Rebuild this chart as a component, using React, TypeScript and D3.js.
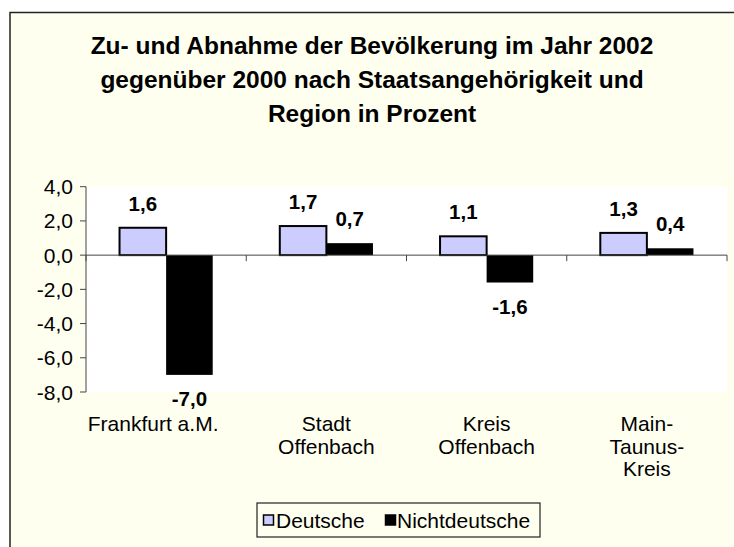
import React from "react";
import * as d3 from "d3";

const titleLines = [
    "Zu- und Abnahme der Bevölkerung im Jahr 2002",
    "gegenüber 2000 nach Staatsangehörigkeit und",
    "Region in Prozent",
];
const regions = ["Frankfurt a.M.", "Stadt Offenbach", "Kreis Offenbach", "Main-Taunus-Kreis"];
const regionLabels = [["Frankfurt a.M."], ["Stadt", "Offenbach"], ["Kreis", "Offenbach"], ["Main-", "Taunus-", "Kreis"]];
const seriesNames = ["Deutsche", "Nichtdeutsche"];
const deutsche = [1.6, 1.7, 1.1, 1.3];
const nichtdeutsche = [-7.0, 0.7, -1.6, 0.4];
const yTicks = [-8, -6, -4, -2, 0, 2, 4];
const colors = ["#CCCCFF", "#000000"];

const width = 734;
const height = 547;
const plot = { left: 86, right: 727, top: 186.7, bottom: 392 };
const font = "'Liberation Sans', Arial, sans-serif";

const locale = d3.formatLocale({ decimal: ",", thousands: ".", grouping: [3], currency: ["", " €"], minus: "-" });
const fmt = locale.format(".1f");

const App = (): JSX.Element => {
    const x0 = d3.scaleBand<string>().domain(regions).range([plot.left, plot.right]).padding(0);
    const x1 = d3
        .scaleBand<string>()
        .domain(seriesNames)
        .range([0, x0.bandwidth()])
        .paddingInner(0)
        .paddingOuter(0.72);
    const y = d3.scaleLinear().domain([-8, 4]).range([plot.bottom, plot.top]);

    const values = [deutsche, nichtdeutsche];
    const boundaries = regions.map((r) => x0(r) as number).concat([plot.right]);

    return (
        <svg
            width={width}
            height={height}
            viewBox={`0 0 ${width} ${height}`}
            style={{ position: "absolute", left: 0, top: 0 }}
            fontFamily={font}
        >
            <rect x={0} y={0} width={width} height={height} fill="#ffffff" />
            {/* chart frame, runs off the right and bottom */}
            <rect x={10} y={12.5} width={740} height={560} fill="#FFFFF0" stroke="#222" strokeWidth={1.5} />

            {/* title */}
            <g fontWeight="bold" fontSize={24.5} textAnchor="middle" fill="#000">
                {titleLines.map((t, i) => (
                    <text key={i} x={372} y={54 + i * 34}>
                        {t}
                    </text>
                ))}
            </g>

            {/* plot area */}
            <rect x={plot.left} y={plot.top} width={plot.right - plot.left} height={plot.bottom - plot.top} fill="#fff" />

            {/* y axis */}
            <line x1={plot.left} x2={plot.left} y1={plot.top} y2={plot.bottom} stroke="#444" strokeWidth={1} />
            {yTicks.map((t) => (
                <g key={t}>
                    <line x1={plot.left - 6} x2={plot.left} y1={y(t)} y2={y(t)} stroke="#444" strokeWidth={1} />
                    <text x={73} y={y(t) + 7.5} textAnchor="end" fontSize={21} fill="#000">
                        {fmt(t)}
                    </text>
                </g>
            ))}

            {/* bars */}
            {values.map((vals, si) =>
                vals.map((v, ci) => {
                    const bx = (x0(regions[ci]) as number) + (x1(seriesNames[si]) as number);
                    const top = y(Math.max(0, v));
                    const h = Math.abs(y(v) - y(0));
                    return (
                        <rect
                            key={`${si}-${ci}`}
                            x={bx}
                            y={top}
                            width={x1.bandwidth()}
                            height={h}
                            fill={colors[si]}
                            stroke="#000"
                            strokeWidth={si === 0 ? 2 : 0}
                        />
                    );
                }),
            )}

            {/* x axis at zero */}
            <line x1={plot.left} x2={plot.right} y1={y(0)} y2={y(0)} stroke="#444" strokeWidth={1} />
            {boundaries.map((bx, i) => (
                <line key={i} x1={bx} x2={bx} y1={y(0)} y2={y(0) + 6} stroke="#444" strokeWidth={1} />
            ))}

            {/* data labels */}
            <g fontWeight="bold" fontSize={20.5} textAnchor="middle" fill="#000">
                {values.map((vals, si) =>
                    vals.map((v, ci) => {
                        const cx = (x0(regions[ci]) as number) + (x1(seriesNames[si]) as number) + x1.bandwidth() / 2;
                        const ty = v >= 0 ? y(v) - 17 : y(v) + 31;
                        return (
                            <text key={`${si}-${ci}`} x={cx} y={ty}>
                                {fmt(v)}
                            </text>
                        );
                    }),
                )}
            </g>

            {/* category labels; the first one is too wide and sits shifted left */}
            <g fontSize={21} textAnchor="middle" fill="#000">
                {regionLabels.map((lines, ci) =>
                    lines.map((l, li) => (
                        <text
                            key={`${ci}-${li}`}
                            x={(x0(regions[ci]) as number) + x0.bandwidth() / 2 + (ci === 0 ? -13 : 0)}
                            y={431 + li * 22.5}
                        >
                            {l}
                        </text>
                    )),
                )}
            </g>

            {/* legend */}
            <rect x={257} y={503} width={283} height={34} fill="#FFFFF0" stroke="#222" strokeWidth={1.2} />
            <rect x={263.5} y={515} width={10} height={10} fill={colors[0]} stroke="#000" strokeWidth={1.5} />
            <text x={276} y={527.5} fontSize={21} fill="#000">
                {seriesNames[0]}
            </text>
            <rect x={385.5} y={515} width={10} height={10} fill={colors[1]} stroke="#000" strokeWidth={1.5} />
            <text x={397} y={527.5} fontSize={21} fill="#000">
                {seriesNames[1]}
            </text>
        </svg>
    );
};

export default App;
